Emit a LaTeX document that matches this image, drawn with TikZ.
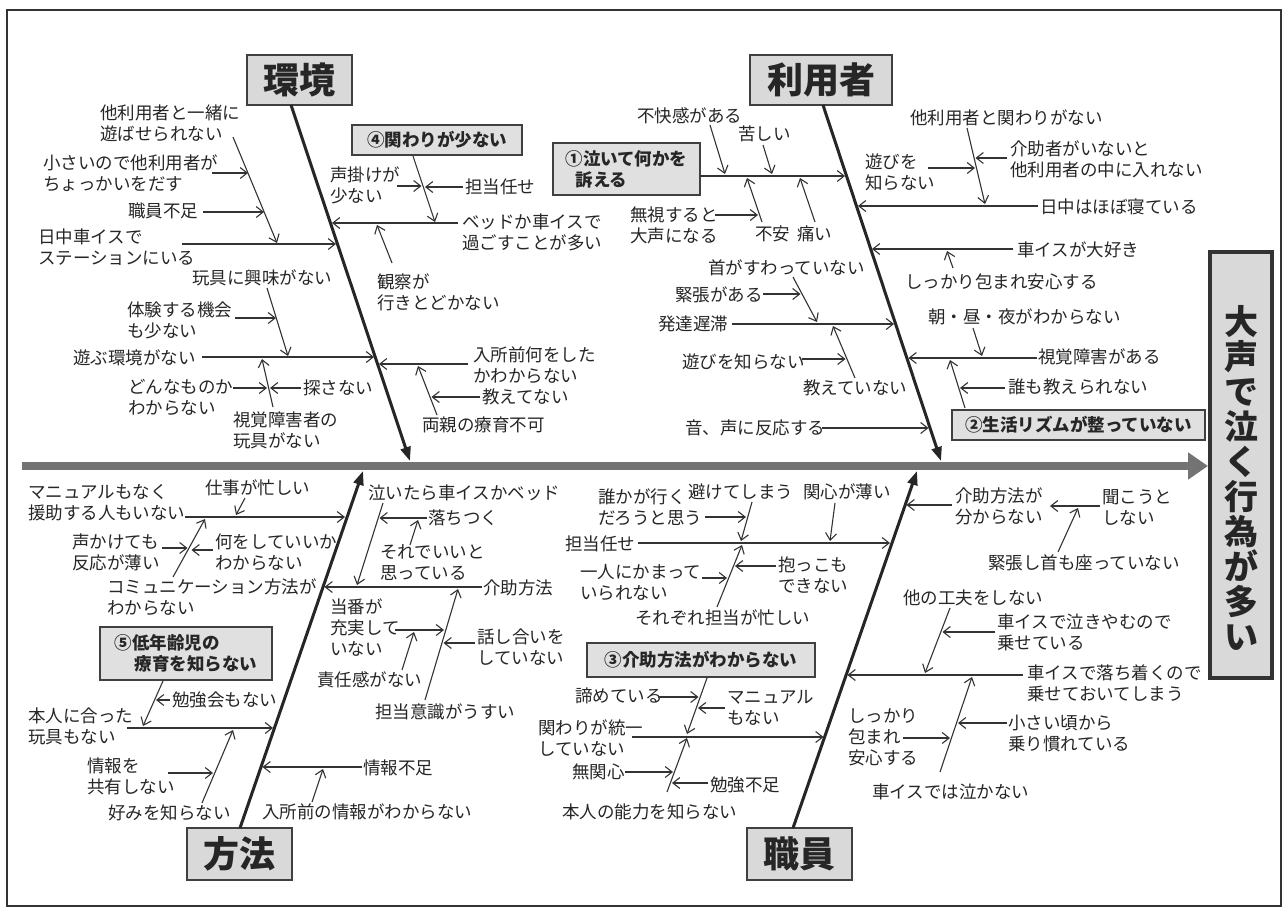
\documentclass[tikz,border=0pt]{standalone}
\usepackage{fontspec}
\newfontfamily\jpf{Noto Sans CJK JP}
\usetikzlibrary{arrows.meta}
\newcommand\cnx[4][arrw]{\coordinate (#2-a) at (#3);\coordinate (#2-b) at (#4);\draw[#1] (#2-a) -- (#2-b);}
\tikzset{
 txt/.style={font=\jpf\fontsize{17.5pt}{21pt}\selectfont, inner sep=0pt, anchor=west, align=left, text=black!85},
 arrw/.style={line width=1.1pt, draw=black!80, -{Straight Barb[length=7pt,width=11pt,line width=1.1pt]}},
 bonel/.style={line width=3pt, draw=black!85, -{Triangle[length=14pt,width=10pt]}},
 spinel/.style={line width=8pt, draw=black!55, -{Triangle[length=20pt,width=26pt]}},
 catbox/.style={draw=black!75, line width=2pt, fill=black!15, font=\jpf\bfseries\fontsize{36pt}{40pt}\selectfont, inner sep=0pt, text=black!85},
 subbox/.style={draw=black!75, line width=1.5pt, fill=black!12, font=\jpf\bfseries\fontsize{17.5pt}{21pt}\selectfont, inner sep=0pt, text=black!85},
 headbox/.style={draw=black!80, line width=3.5pt, fill=black!15, inner sep=0pt},
}
\begin{document}
\begin{tikzpicture}[x=1pt,y=-1pt]
\useasboundingbox (0,0) rectangle (1288,916);
\fill[white] (0,0) rectangle (1288,916);
\draw[line width=1.3pt, black!80] (7,10) rectangle (1281,906);
% spine
\coordinate (sp0) at (22,466);
\coordinate (sp1) at (1208,466);
\draw[spinel] (sp0) -- (sp1);
% head
\node[headbox, minimum width=62, minimum height=426] (head) at (1241,465) {};
\node[font=\jpf\bfseries\fontsize{34pt}{35pt}\selectfont, align=center, inner sep=0pt, text=black!85] (headt) at (1241,478) {大\\声\\で\\泣\\く\\行\\為\\が\\多\\い};
% categories
\node[catbox, minimum width=105, minimum height=50] (kan) at (299.5,80) {環境};
\node[catbox, minimum width=142, minimum height=50] (riy) at (821,80) {利用者};
\node[catbox, minimum width=105, minimum height=52] (hoh) at (239.5,854) {方法};
\node[catbox, minimum width=105, minimum height=52] (sho) at (799.5,854) {職員};
% bones
\coordinate (kA) at (291,105); \coordinate (kB) at (410,461);
\coordinate (rA) at (823,105); \coordinate (rB) at (941,461);
\coordinate (hA) at (240,828); \coordinate (hB) at (363,471);
\coordinate (sA) at (793,828); \coordinate (sB) at (917,471);
\draw[bonel] (kA) -- (kB);
\draw[bonel] (rA) -- (rB);
\draw[bonel] (hA) -- (hB);
\draw[bonel] (sA) -- (sB);
% ---------- kankyo
\node[txt] (k1) at (100,123) {他利用者と一緒に\\遊ばせられない};
\cnx{ks1}{233,137}{277,243}
\node[txt] (k2) at (43,173) {小さいので他利用者が\\ちょっかいをだす};
\cnx{k2}{212,173}{248,173}
\node[txt] (k3) at (128,211) {職員不足};
\cnx{k3}{203,212}{264,212}
\node[txt] (k4) at (38,247) {日中車イスで\\ステーションにいる};
\cnx{k4}{182,244}{336,244}
\node[txt] (k5) at (192,278) {玩具に興味がない};
\cnx{ks2}{267,288}{288,356}
\node[txt] (k6) at (127,320) {体験する機会\\も少ない};
\cnx{k6}{235,318}{276,318}
\node[txt] (k7) at (73,358) {遊ぶ環境がない};
\cnx{k7}{202,357}{374,357}
\cnx{ks3}{273,407}{262,359}
\node[txt] (k8) at (128,397) {どんなものか\\わからない};
\cnx{k8}{233,388}{267,388}
\node[txt] (k9) at (303,388) {探さない};
\cnx{k9}{301,388}{270,388}
\node[txt] (k10) at (233,430) {視覚障害者の\\玩具がない};
\node[subbox, minimum width=170, minimum height=30] (b4) at (437,140) {④関わりが少ない};
\cnx{ks4}{413,156}{435,222}
\node[txt] (k11) at (330,185) {声掛けが\\少ない};
\cnx{k11}{397,186}{421.5,186}
\node[txt] (k12) at (465,187) {担当任せ};
\cnx{k12}{463,187}{425,187}
\node[txt] (k13) at (462,232) {ベッドか車イスで\\過ごすことが多い};
\cnx{k13}{458,223}{332,223}
\cnx{ks5}{392,263}{377,225}
\node[txt] (k14) at (377,292) {観察が\\行きとどかない};
\node[txt] (k15) at (473,365) {入所前何をした\\かわからない};
\cnx{k15}{468,364}{379,364}
\cnx{ks6}{437,415}{418,366}
\node[txt] (k16) at (482,397) {教えてない};
\cnx{k16}{480,397}{431.5,397}
\node[txt] (k17) at (422,425) {両親の療育不可};
% ---------- riyousha
\node[subbox, minimum width=147, minimum height=52, align=left] (b1) at (626.5,169) {①泣いて何かを\\\hspace*{10pt}訴える};
\cnx{b1}{700,176}{845,176}
\node[txt] (r1) at (637,116) {不快感がある};
\cnx{r1}{710,125}{725,174}
\node[txt] (r2) at (738,134) {苦しい};
\cnx{r2}{763,145}{772,174}
\node[txt] (r3) at (630,225) {無視すると\\大声になる};
\cnx{r3}{715,215}{758,215}
\node[txt] (r4) at (755,234) {不安};
\cnx{rs1}{762,222}{747,178}
\node[txt] (r5) at (797,234) {痛い};
\cnx{r5}{815,222}{800,178}
\node[txt] (r6) at (708,268) {首がすわっていない};
\cnx{rs2}{793,277}{817,322}
\node[txt] (r7) at (675,295) {緊張がある};
\cnx{r7}{763,294}{800.5,294}
\node[txt] (r8) at (658,324) {発達遅滞};
\cnx{r8}{732,324}{894,324}
\cnx{rs3}{855,378}{833,326}
\node[txt] (r9) at (682,362) {遊びを知らない};
\cnx{r9}{802,359}{845.5,359}
\node[txt] (r10) at (803,388) {教えていない};
\node[txt] (r11) at (685,428) {音、声に反応する};
\cnx{r11}{822,428}{928.5,428}
\node[txt] (r12) at (910,118) {他利用者と関わりがない};
\cnx{rs4}{967,128}{985,204}
\node[txt] (r13) at (865,172) {遊びを\\知らない};
\cnx{r13}{928,168}{975,168}
\node[txt] (r14) at (1010,159) {介助者がいないと\\他利用者の中に入れない};
\cnx{r14}{1007,158}{975.5,158}
\node[txt] (r15) at (1040,207) {日中はほぼ寝ている};
\cnx{r15}{1038,206}{858,206}
\node[txt] (r16) at (1017,250) {車イスが大好き};
\cnx{r16}{1013,249}{872,249}
\cnx{rs5}{953,268}{947,251}
\node[txt] (r17) at (905,282) {しっかり包まれ安心する};
\node[txt] (r18) at (928,317) {朝・昼・夜がわからない};
\cnx{rs6}{973,328}{982,356}
\node[txt] (r19) at (1038,357) {視覚障害がある};
\cnx{r19}{1037,358}{908.5,358}
\cnx{rs7}{965,408}{950,360}
\node[txt] (r20) at (1008,387) {誰も教えられない};
\cnx{r20}{1005,388}{960,388}
\node[subbox, minimum width=253, minimum height=30] (b2) at (1078.5,425) {②生活リズムが整っていない};
% ---------- houhou
\node[txt] (h1) at (205,488) {仕事が忙しい};
\cnx{h1}{245,498}{236,515}
\node[txt] (h2) at (28,503) {マニュアルもなく\\援助する人もいない};
\cnx{h2}{185,517}{345,517}
\cnx{hs1}{173,577}{205,519}
\node[txt] (h3) at (72,552) {声かけても\\反応が薄い};
\cnx{h3}{162,548}{187.5,548}
\node[txt] (h4) at (215,552) {何をしていいか\\わからない};
\cnx{h4}{213,550}{191.5,550}
\node[txt] (h5) at (107,597) {コミュニケーション方法が\\わからない};
\node[subbox, minimum width=172, minimum height=53, align=left] (b5) at (186,653.5) {⑤低年齢児の\\\hspace*{20pt}療育を知らない};
\cnx{hs2}{163,681}{143,726}
\node[txt] (h6) at (172,700) {勉強会もない};
\cnx{h6}{170,700}{156,700}
\node[txt] (h7) at (28,726) {本人に合った\\玩具もない};
\cnx{h7}{127,728}{273,728}
\cnx{hs3}{202,803}{233,730}
\node[txt] (h8) at (87,776) {情報を\\共有しない};
\cnx{h8}{168,773}{213,773}
\node[txt] (h9) at (108,813) {好みを知らない};
\node[txt] (h10) at (363,768) {情報不足};
\cnx{h10}{362,767}{262.5,767}
\cnx{hs4}{312,802}{323,769}
\node[txt] (h11) at (262,812) {入所前の情報がわからない};
\node[txt] (h12) at (368,493) {泣いたら車イスかベッド};
\cnx{hs5}{383,503}{357,585}
\node[txt] (h13) at (428,518) {落ちつく};
\cnx{h13}{427,518}{379.5,518}
\cnx{hs6}{410,545}{418,520}
\node[txt] (h14) at (380,563) {それでいいと\\思っている};
\node[txt] (h15) at (483,588) {介助方法};
\cnx{h15}{482,587}{324.5,587}
\cnx{hs7}{425,700}{458,589}
\node[txt] (h16) at (330,628) {当番が\\充実して\\いない};
\cnx{h16}{395,630}{444,630}
\cnx{hs8}{402,670}{414,632}
\node[txt] (h17) at (317,680) {責任感がない};
\node[txt] (h18) at (477,647) {話し合いを\\していない};
\cnx{h18}{475,643}{443.5,643}
\node[txt] (h19) at (375,712) {担当意識がうすい};
% ---------- shokuin
\node[txt] (s1) at (598,507) {誰かが行く\\だろうと思う};
\node[txt] (s2) at (688,492) {避けてしまう};
\cnx{ss0}{752,502}{741,541}
\cnx{s1}{705,517}{746,517}
\node[txt] (s3) at (803,492) {関心が薄い};
\cnx{s3}{835,503}{830,541}
\node[txt] (s4) at (565,544) {担当任せ};
\cnx{s4}{638,543}{890,543}
\node[txt] (s5) at (778,575) {抱っこも\\できない};
\cnx{s5}{776,566}{735,566}
\node[txt] (s6) at (580,582) {一人にかまって\\いられない};
\cnx{s6}{702,578}{727,578}
\node[txt] (s7) at (635,618) {それぞれ担当が忙しい};
\cnx{ssx}{717,607}{742,545}
\node[subbox, minimum width=228, minimum height=34] (b3) at (701,660) {③介助方法がわからない};
\cnx{ss1}{707,678}{687,734}
\node[txt] (s8) at (575,696) {諦めている};
\cnx{s8}{658,697}{698.5,697}
\node[txt] (s9) at (727,708) {マニュアル\\もない};
\cnx{s9}{725,708}{698,708}
\node[txt] (s10) at (538,738) {関わりが統一\\していない};
\cnx{s10}{632,737}{823.5,737}
\cnx{ss2}{667,792}{687,738}
\node[txt] (s11) at (572,772) {無関心};
\cnx{s11}{625,772}{673,772}
\node[txt] (s12) at (710,785) {勉強不足};
\cnx{s12}{708,783}{672,783}
\node[txt] (s13) at (562,812) {本人の能力を知らない};
\node[txt] (s14) at (955,506) {介助方法が\\分からない};
\cnx{s14}{952,505}{906.5,505}
\node[txt] (s15) at (1102,507) {聞こうと\\しない};
\cnx{s15}{1100,506}{1050,506}
\cnx{ss3}{1058,552}{1078,508}
\node[txt] (s16) at (988,563) {緊張し首も座っていない};
\node[txt] (s17) at (903,598) {他の工夫をしない};
\cnx{ss4}{950,608}{925,673}
\node[txt] (s18) at (997,632) {車イスで泣きやむので\\乗せている};
\cnx{s18}{995,632}{942.5,632}
\node[txt] (s19) at (1027,683) {車イスで落ち着くので\\乗せておいてしまう};
\cnx{s19}{1023,675}{847.5,675}
\cnx{ss5}{940,772}{972,677}
\node[txt] (s20) at (848,737) {しっかり\\包まれ\\安心する};
\cnx{s20}{903,738}{950,738}
\node[txt] (s21) at (1008,733) {小さい頃から\\乗り慣れている};
\cnx{s21}{1007,723}{958,723}
\node[txt] (s22) at (872,792) {車イスでは泣かない};
\end{tikzpicture}
\end{document}
